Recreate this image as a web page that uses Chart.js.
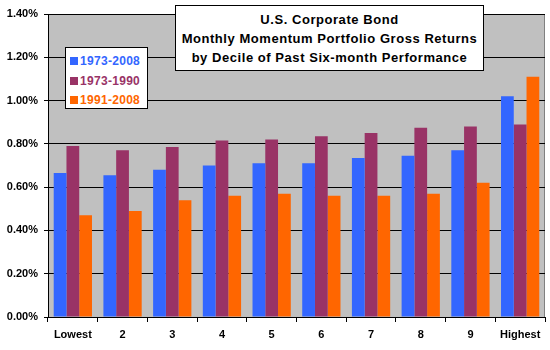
<!DOCTYPE html>
<html>
<head>
<meta charset="utf-8">
<script src="https://cdn.jsdelivr.net/npm/chart.js@4.4.0/dist/chart.umd.min.js"></script>
<style>
    body { margin: 0; background: #fff; }
    #wrap { position: relative; width: 550px; height: 350px; }
    #titleBox {
        position: absolute; left: 175px; top: 5px; width: 307px;
        background: #fff; border: 1px solid #000;
        font: bold 13px "Liberation Sans", Arial, sans-serif; text-align: center;
        letter-spacing: 0.55px;
        line-height: 19px; padding-top: 4px; box-sizing: content-box; height: 60px;
    }
    #legendBox {
        position: absolute; left: 65px; top: 47px; width: 81px; height: 60px;
        background: #fff; border: 1px solid #000;
        font: bold 12px "Liberation Sans", Arial, sans-serif; letter-spacing: 0.3px;
    }
    .item { position: absolute; left: 4px; height: 14px; line-height: 14px; white-space: nowrap; }
    .sw { display: inline-block; width: 8px; height: 8px; margin-right: 2px; vertical-align: 0px; }
</style>
</head>
<body>
<div id="wrap">
    <canvas id="chart" width="550" height="350"></canvas>
    <div id="titleBox">U.S. Corporate Bond<br>Monthly Momentum Portfolio Gross Returns<br>by Decile of Past Six-month Performance</div>
    <div id="legendBox"></div>
</div>
<script>
    // deciles
    const categorias = ['Lowest', '2', '3', '4', '5', '6', '7', '8', '9', 'Highest'];
    const serieNombres = ['1973-2008', '1973-1990', '1991-2008'];
    const serieColores = ['#3366FF', '#993366', '#FF6600'];

    // retornos mensuales (%)
    const r1973_2008 = [0.665, 0.655, 0.68, 0.70, 0.71, 0.71, 0.735, 0.745, 0.77, 1.02];
    const r1973_1990 = [0.79, 0.77, 0.785, 0.815, 0.82, 0.835, 0.85, 0.875, 0.88, 0.89];
    const r1991_2008 = [0.47, 0.49, 0.54, 0.56, 0.57, 0.56, 0.56, 0.57, 0.62, 1.11];

    const valores = [r1973_2008, r1973_1990, r1991_2008];

    // leyenda
    const leg = document.getElementById('legendBox');
    serieNombres.forEach((n, i) => {
        const d = document.createElement('div');
        d.className = 'item';
        d.style.top = (6 + i * 19.5) + 'px';
        d.style.color = serieColores[i];
        d.innerHTML = '<span class="sw" style="background:' + serieColores[i] + '"></span>' + n;
        leg.appendChild(d);
    });

    // fondo gris del área de trazado
    const fondo = {
        id: 'fondo',
        beforeDraw(chart) {
            const a = chart.chartArea, c = chart.ctx;
            c.save();
            c.fillStyle = '#C0C0C0';
            c.fillRect(a.left, a.top, a.right - a.left, a.bottom - a.top);
            c.strokeStyle = '#808080';
            c.lineWidth = 1;
            c.strokeRect(a.left + 0.5, a.top + 0.5, a.right - a.left - 1, a.bottom - a.top);
            c.restore();
        }
    };

    const ctx = document.getElementById('chart');
    const chart = new Chart(ctx, {
        type: 'bar',
        data: {
            labels: categorias,
            datasets: valores.map((v, i) => ({
                label: serieNombres[i],
                data: v,
                backgroundColor: serieColores[i],
                borderWidth: 0,
                categoryPercentage: 0.77,
                barPercentage: 1.0
            }))
        },
        options: {
            responsive: false,
            animation: false,
            layout: { padding: { left: 0, right: 5, top: 14, bottom: 0 } },
            plugins: { legend: { display: false }, title: { display: false }, tooltip: { enabled: false } },
            scales: {
                x: {
                    grid: { drawOnChartArea: false, drawTicks: true, tickLength: 5, color: '#000', offset: true },
                    border: { color: '#000', width: 1 },
                    ticks: { color: '#000', font: { family: 'Liberation Sans', size: 11, weight: 'bold' }, padding: 6, maxRotation: 0 },
                    afterFit: (s) => { s.height = 33; }
                },
                y: {
                    min: 0, max: 1.4,
                    grid: { color: '#000', tickLength: 4, lineWidth: 1 },
                    border: { color: '#000', width: 1 },
                    ticks: {
                        stepSize: 0.2, color: '#000', padding: 6,
                        font: { family: 'Liberation Sans', size: 11, weight: 'bold' },
                        callback: (v) => v.toFixed(2) + '%'
                    },
                    afterFit: (s) => { s.width = 48; }
                }
            }
        },
        plugins: [fondo]
    });
</script>
</body>
</html>
